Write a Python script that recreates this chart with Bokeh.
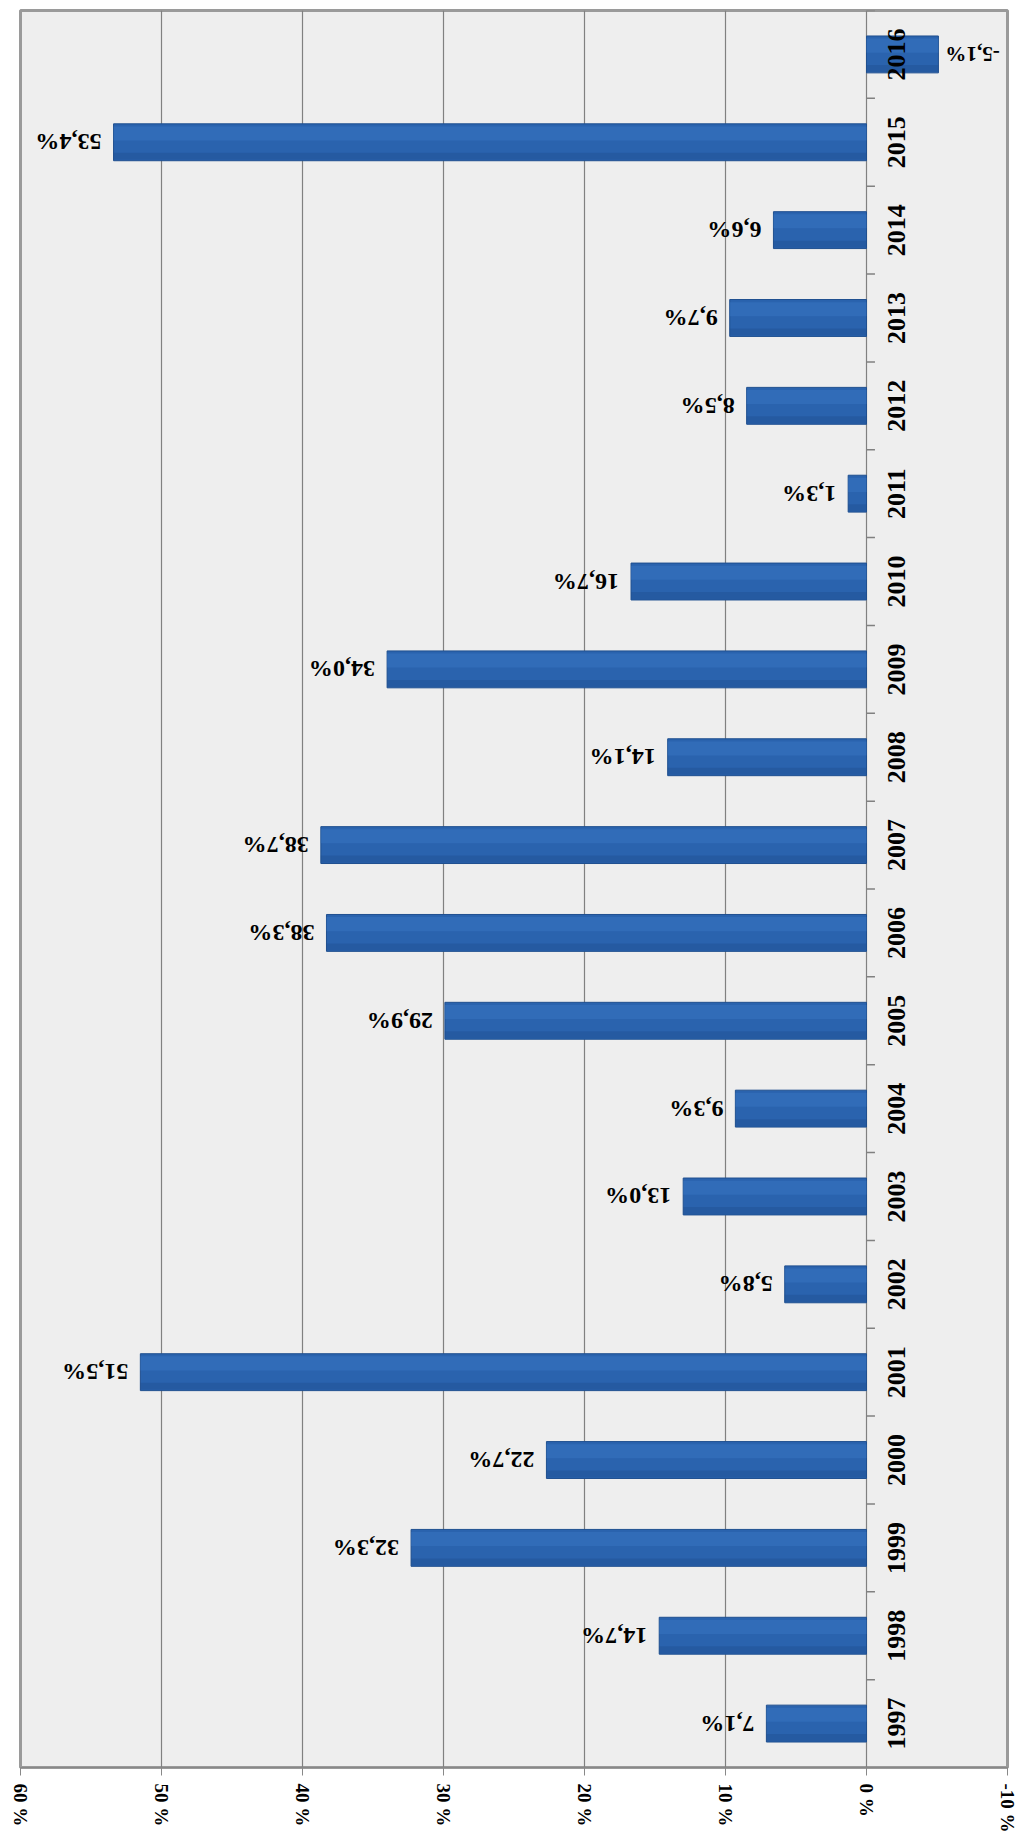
from bokeh.plotting import figure
from bokeh.models import Range1d, FactorRange, FixedTicker, ColumnDataSource, LabelSet
from bokeh.transform import dodge
from bokeh.core.properties import value
from bokeh.embed import file_html
from bokeh.resources import INLINE
import math

years = ["1997", "1998", "1999", "2000", "2001", "2002", "2003", "2004", "2005", "2006",
         "2007", "2008", "2009", "2010", "2011", "2012", "2013", "2014", "2015", "2016"]
growth = [7.1, 14.7, 32.3, 22.7, 51.5, 5.8, 13.0, 9.3, 29.9, 38.3,
          38.7, 14.1, 34.0, 16.7, 1.3, 8.5, 9.7, 6.6, 53.4, -5.1]
value_ticks = [60, 50, 40, 30, 20, 10, 0, -10]
tick_labels = ["60 %", "50 %", "40 %", "30 %", "20 %", "10 %", "0 %", "-10 %"]

labels = [("%.1f" % v).replace(".", ",") + "%" for v in growth]

src = ColumnDataSource(dict(year=years, val=growth, lab=labels, zero=[0] * len(years)))
pos = ColumnDataSource(dict(year=[y for y, v in zip(years, growth) if v >= 0],
                            val=[v for v in growth if v >= 0],
                            lab=[l for l, v in zip(labels, growth) if v >= 0]))
neg = ColumnDataSource(dict(year=[y for y, v in zip(years, growth) if v < 0],
                            val=[v for v in growth if v < 0],
                            lab=[l for l, v in zip(labels, growth) if v < 0]))

p = figure(width=1031, height=1838, output_backend="svg", toolbar_location=None,
           x_range=Range1d(60, -10), y_range=FactorRange(factors=years),
           min_border_left=20, min_border_right=24, min_border_top=10, min_border_bottom=71,
           background_fill_color="#eeeeee", border_fill_color="white")
p.title.visible = False

# bars with soft shading
p.hbar(y="year", left="zero", right="val", height=0.42, source=src,
       fill_color="#2a63ae", line_color="#1f4f8f", line_width=1)
p.hbar(y=dodge("year", 0.1, range=p.y_range), left="zero", right="val", height=0.16, source=src,
       fill_color="#3a78c6", fill_alpha=0.45, line_color=None)
p.hbar(y=dodge("year", -0.16, range=p.y_range), left="zero", right="val", height=0.08, source=src,
       fill_color="#1c4a8a", fill_alpha=0.35, line_color=None)

# data labels (upside down)
p.add_layout(LabelSet(x="val", y="year", text="lab", source=pos, angle=math.pi, x_offset=-12,
                      text_align="left", text_baseline="middle", text_font=value("Liberation Serif"),
                      text_font_style="bold", text_font_size="24px", text_color="black"))
p.add_layout(LabelSet(x="val", y="year", text="lab", source=neg, angle=math.pi, x_offset=7,
                      text_align="right", text_baseline="middle", text_font=value("Liberation Serif"),
                      text_font_style="bold", text_font_size="21px", text_color="black"))

# category labels along the zero line
p.text(x="zero", y="year", text="year", source=src, angle=math.pi / 2, x_offset=21,
       text_align="center", text_baseline="top", text_font=value("Liberation Serif"),
       text_font_style="bold", text_font_size="26px", text_color="black")
# category tick marks between categories
p.segment(x0="zero", x1=-0.6, y0=dodge("year", 0.5, range=p.y_range),
          y1=dodge("year", 0.5, range=p.y_range), source=src, line_color="#808080", line_width=1.5)

p.yaxis.visible = False
p.ygrid.grid_line_color = None
p.xgrid.grid_line_color = "#808080"
p.xgrid.grid_line_width = 1.2

ax = p.xaxis[0]
ax.ticker = FixedTicker(ticks=value_ticks)
ax.major_label_overrides = {t: s for t, s in zip(value_ticks, tick_labels)}
ax.major_label_orientation = "vertical"
ax.major_label_text_font = "Liberation Serif"
ax.major_label_text_font_style = "bold"
ax.major_label_text_font_size = "19px"
ax.major_label_text_color = "black"
ax.major_label_standoff = 8
ax.axis_line_color = "#888888"
ax.major_tick_line_color = "#888888"
ax.major_tick_out = 8
ax.major_tick_in = 0
ax.minor_tick_line_color = None

p.outline_line_color = "#9a9a9a"
p.outline_line_width = 3

open("out.html", "w").write(file_html(p, INLINE))
